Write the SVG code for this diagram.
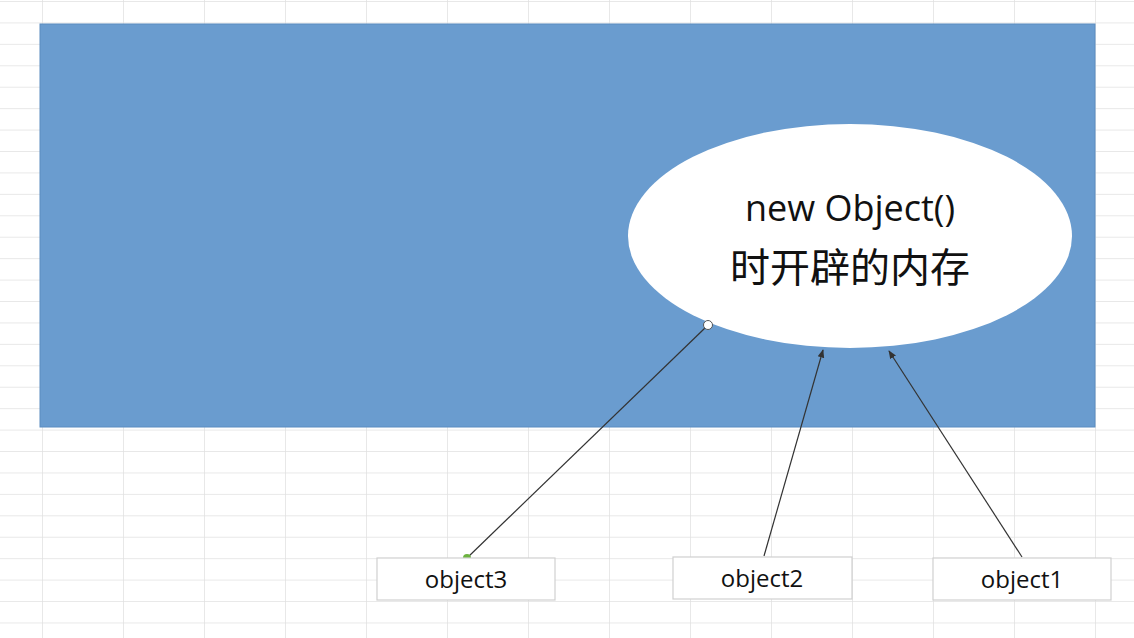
<svg xmlns="http://www.w3.org/2000/svg" width="1134" height="638" viewBox="0 0 1134 638">
<style>
.g{stroke:#e1e1e1;stroke-width:1.5}
.box{fill:#fff;stroke:#d0d0d0;stroke-width:1.2}
.lbl{font-family:"Open Sans","Liberation Sans",sans-serif;font-size:24px;fill:#111;text-anchor:middle}
.c{stroke:#333;stroke-width:1.2;fill:none}
</style>
<defs>
<marker id="a" viewBox="0 0 10 10" refX="9" refY="5" markerWidth="7" markerHeight="7" orient="auto"><path d="M0,1 L10,5 L0,9 z" fill="#333"/></marker>
<pattern id="grid" width="81" height="21.43" patternUnits="userSpaceOnUse" x="42" y="1">
<rect width="81" height="21.43" fill="#fff"/>
<path d="M0,0 V21.43 M0,0 H81" class="g"/>
</pattern>
</defs>
<rect width="1134" height="638" fill="url(#grid)"/>
<g id="memory">
<rect x="40" y="24" width="1055" height="403" fill="#6a9ccf" stroke="#5b8cc0"/>
</g>
<g id="ellipse">
<ellipse cx="850" cy="236" rx="222" ry="112" fill="#fff"/>
<text class="lbl" x="850" y="221" style="font-size:36px">new Object()</text>
<text class="lbl" x="850" y="282" style="font-size:40px;font-family:'Noto Sans CJK SC',sans-serif">时开辟的内存</text>
</g>
<g id="connectors">
<line class="c" x1="467" y1="558" x2="705" y2="328"/>
<circle cx="708" cy="325" r="4.5" fill="#fff" stroke="#555"/>
<circle cx="467" cy="558" r="4" fill="#6cb33f"/>
<line class="c" x1="764" y1="556" x2="823" y2="350" marker-end="url(#a)"/>
<line class="c" x1="1022" y1="557" x2="889" y2="351" marker-end="url(#a)"/>
</g>
<g id="object3"><rect class="box" x="377" y="558" width="178" height="42"/><text class="lbl" x="466" y="588">object3</text></g>
<g id="object2"><rect class="box" x="673" y="557" width="179" height="42"/><text class="lbl" x="762" y="587">object2</text></g>
<g id="object1"><rect class="box" x="933" y="558" width="178" height="42"/><text class="lbl" x="1022" y="588">object1</text></g>
</svg>
